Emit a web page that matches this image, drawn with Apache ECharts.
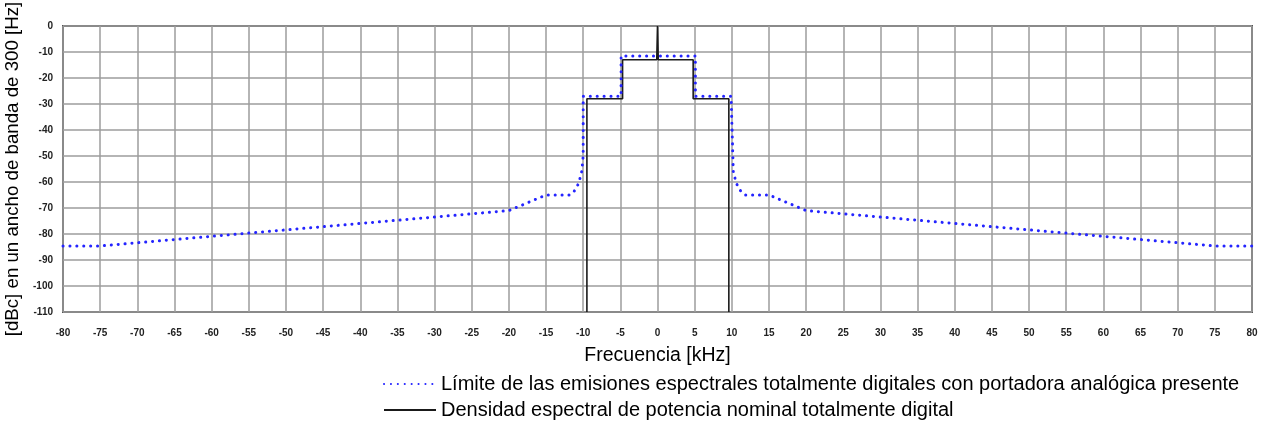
<!DOCTYPE html>
<html>
<head>
<meta charset="utf-8">
<script src="https://cdn.jsdelivr.net/npm/echarts@6/dist/echarts.min.js"></script>
<style>html,body{margin:0;padding:0;background:#fff}#c{width:1268px;height:425px}</style>
</head>
<body>
<div id="c"></div>
<script>
// Frequency (kHz) / level (dBc) pairs
const limitFreq = [-80, -75, -20, -15, -11.8, -11.2, -10.6, -10.2, -10, -10, -4.9, -4.9, 5.1, 5.1, 9.9, 10.2, 10.6, 11.2, 11.8, 15, 20, 75, 80];
const limitLevel = [-84.6, -84.6, -71, -65, -65, -63.5, -60.5, -56, -50, -27, -27, -11.5, -11.5, -27, -27, -56, -60.5, -63.5, -65, -65, -71, -84.6, -84.6];
const psdFreq = [-9.5, -9.5, -4.7, -4.7, -0.1, 0, 0.1, 4.8, 4.8, 9.6, 9.6];
const psdLevel = [-110, -28, -28, -13, -13, 0, -13, -13, -28, -28, -110];
const xTicks = [-80, 80, 5];
const yTicks = [-110, 0, 10];
const seriesNames = [
  'Límite de las emisiones espectrales totalmente digitales con portadora analógica presente',
  'Densidad espectral de potencia nominal totalmente digital'
];

const zip = (a, b) => a.map((v, i) => [v, b[i]]);
const chart = echarts.init(document.getElementById('c'), null, {renderer: 'canvas'});
const font = 'Arial, "Liberation Sans", sans-serif';
const legendBase = {
  orient: 'horizontal', left: 378, itemWidth: 52, itemHeight: 14,
  textStyle: {fontSize: 20, color: '#000', fontFamily: font},
  itemStyle: {opacity: 0}
};
chart.setOption({
  animation: false,
  textStyle: {fontFamily: font},
  grid: {left: 63, right: 16, top: 26, bottom: 113, containLabel: false, outerBoundsMode: 'none',
         show: true, borderColor: '#555', borderWidth: 2, backgroundColor: '#fff'},
  xAxis: {
    type: 'value', min: xTicks[0], max: xTicks[1], interval: xTicks[2],
    name: 'Frecuencia [kHz]', nameLocation: 'middle', nameGap: 34,
    nameTextStyle: {fontSize: 19.5, color: '#000', fontFamily: font},
    axisLine: {show: false}, axisTick: {show: false},
    axisLabel: {fontSize: 10, fontWeight: 'bold', color: '#222', margin: 16, fontFamily: font},
    splitLine: {show: true, lineStyle: {color: '#9c9c9c', width: 1.5}}
  },
  yAxis: {
    type: 'value', min: yTicks[0], max: yTicks[1], interval: yTicks[2],
    name: '[dBc] en un ancho de banda de 300 [Hz]', nameLocation: 'middle', nameGap: 41,
    nameTextStyle: {fontSize: 18.7, color: '#000', fontFamily: font},
    axisLine: {show: false}, axisTick: {show: false},
    axisLabel: {fontSize: 10, fontWeight: 'bold', color: '#222', margin: 10, fontFamily: font},
    splitLine: {show: true, lineStyle: {color: '#9c9c9c', width: 1.5}}
  },
  legend: [
    Object.assign({}, legendBase, {top: 369, data: [seriesNames[0]]}),
    Object.assign({}, legendBase, {top: 395, data: [seriesNames[1]]})
  ],
  series: [
    {
      name: seriesNames[0], type: 'line', symbol: 'none', z: 3,
      data: zip(limitFreq, limitLevel),
      lineStyle: {color: '#2424ff', width: 3, type: [0.1, 6.8], cap: 'round'},
      itemStyle: {color: '#2424ff'}
    },
    {
      name: seriesNames[1], type: 'line', symbol: 'none', z: 2,
      data: zip(psdFreq, psdLevel),
      lineStyle: {color: '#1a1a1a', width: 1.6},
      itemStyle: {color: '#1a1a1a'}
    }
  ]
});
</script>
</body>
</html>
